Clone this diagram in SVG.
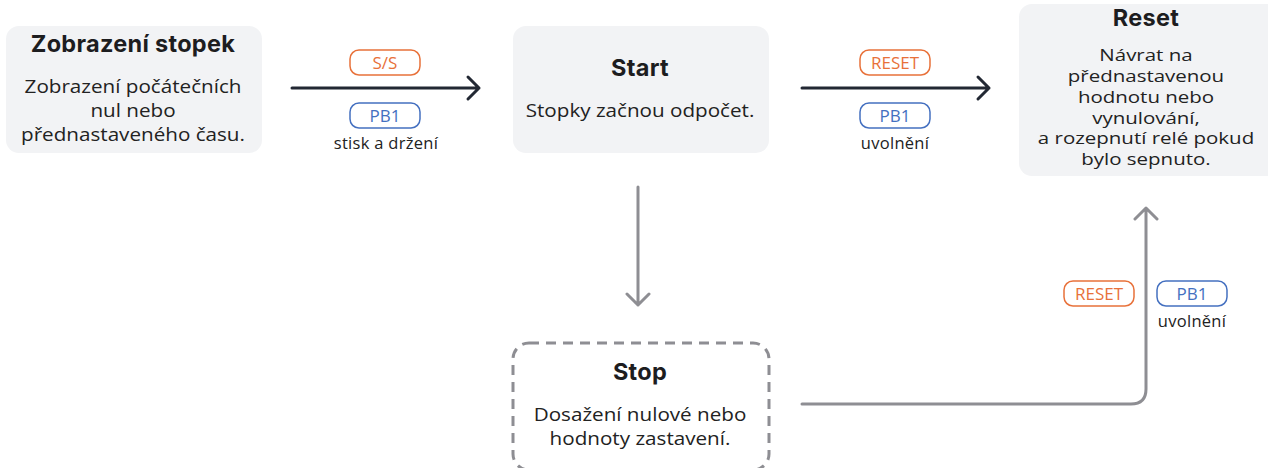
<svg xmlns="http://www.w3.org/2000/svg" width="1268" height="468" viewBox="0 0 1268 468">
<style>
.box{fill:#f2f3f5;}
.dash{fill:none;stroke:#8e8e93;stroke-width:3;stroke-dasharray:10 7;}
.title{font-family:"Inter","Open Sans",sans-serif;font-weight:700;font-size:23.5px;letter-spacing:0.3px;fill:#1d1d1f;text-anchor:middle;}
.body{font-family:"Open Sans",sans-serif;font-size:17.5px;fill:#222;text-anchor:middle;}
.body2{font-family:"Open Sans",sans-serif;font-size:16px;fill:#222;text-anchor:middle;}
.small{font-family:"Open Sans",sans-serif;font-size:16.5px;letter-spacing:0.3px;fill:#222;text-anchor:middle;}
.pillO{fill:#fff;stroke:#e8713a;stroke-width:1.5;}
.pillB{fill:#fff;stroke:#4470c0;stroke-width:1.5;}
.tO{font-family:"Open Sans",sans-serif;font-size:17px;fill:#e8713a;text-anchor:middle;}
.tB{font-family:"Open Sans",sans-serif;font-size:17px;fill:#4470c0;text-anchor:middle;}
.dark{fill:none;stroke:#222833;stroke-width:3;stroke-linecap:round;stroke-linejoin:round;}
.gray{fill:none;stroke:#8e8e93;stroke-width:3;stroke-linecap:round;stroke-linejoin:round;}
</style>
<g id="node-display">
<rect class="box" x="6" y="26" width="256" height="127" rx="13"/>
<text class="title" x="133" y="52">Zobrazení stopek</text>
<g transform="translate(133,0) scale(1.18,1)">
<text class="body" x="0" y="93">Zobrazení počátečních</text>
<text class="body" x="0" y="117">nul nebo</text>
<text class="body" x="0" y="141">přednastaveného času.</text>
</g>
</g>
<g id="node-start">
<rect class="box" x="513" y="26" width="256" height="127" rx="13"/>
<text class="title" x="640" y="76">Start</text>
<text class="body" transform="translate(640,0) scale(1.18,1)" x="0" y="117">Stopky začnou odpočet.</text>
</g>
<g id="node-reset">
<rect class="box" x="1019" y="4" width="262" height="172" rx="13"/>
<text class="title" x="1146" y="26">Reset</text>
<g transform="translate(1146,0) scale(1.28,1)">
<text class="body2" x="0" y="61">Návrat na</text>
<text class="body2" x="0" y="82">přednastavenou</text>
<text class="body2" x="0" y="103">hodnotu nebo</text>
<text class="body2" x="0" y="124">vynulování,</text>
<text class="body2" x="0" y="144">a rozepnutí relé pokud</text>
<text class="body2" x="0" y="165">bylo sepnuto.</text>
</g>
</g>
<g id="node-stop">
<rect class="dash" x="513" y="343" width="256" height="127" rx="16"/>
<text class="title" x="640" y="380">Stop</text>
<g transform="translate(640,0) scale(1.18,1)">
<text class="body" x="0" y="421">Dosažení nulové nebo</text>
<text class="body" x="0" y="445">hodnoty zastavení.</text>
</g>
</g>
<g id="connectors">
<path class="dark" d="M292 88 H479 M468 77 L479 88 L468 99"/>
<rect class="pillO" x="350" y="50" width="70" height="25" rx="9"/>
<text class="tO" x="385" y="69">S/S</text>
<rect class="pillB" x="350" y="103" width="70" height="25" rx="9"/>
<text class="tB" x="385" y="122">PB1</text>
<text class="small" x="386" y="149">stisk a držení</text>

<path class="dark" d="M802 88 H989 M978 77 L989 88 L978 99"/>
<rect class="pillO" x="860" y="50" width="70" height="25" rx="9"/>
<text class="tO" x="895" y="69">RESET</text>
<rect class="pillB" x="860" y="103" width="70" height="25" rx="9"/>
<text class="tB" x="895" y="122">PB1</text>
<text class="small" x="895" y="149">uvolnění</text>

<path class="gray" d="M638 187 V305 M627 294 L638 305 L649 294"/>

<path class="gray" d="M802 404 H1131 Q1146 404 1146 389 V208 M1135 219 L1146 208 L1157 219"/>
<rect class="pillO" x="1064" y="281" width="70" height="25" rx="9"/>
<text class="tO" x="1099" y="300">RESET</text>
<rect class="pillB" x="1157" y="281" width="70" height="25" rx="9"/>
<text class="tB" x="1192" y="300">PB1</text>
<text class="small" x="1192" y="327">uvolnění</text>
</g>
</svg>
